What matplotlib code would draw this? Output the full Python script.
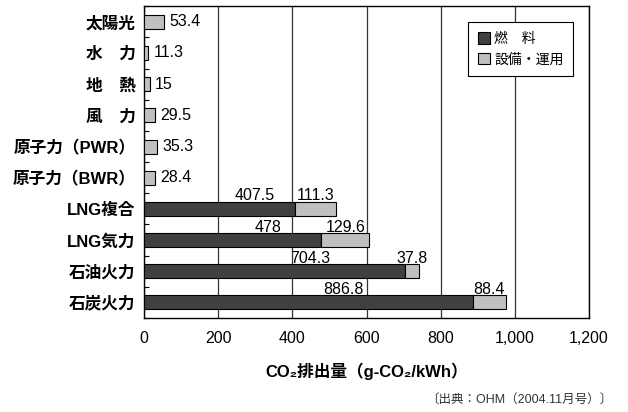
import matplotlib
matplotlib.use("Agg")
import matplotlib.pyplot as plt
from matplotlib.patches import Patch
import numpy as np

plt.rcParams["font.family"] = ["Liberation Sans", "Noto Sans CJK JP", "DejaVu Sans"]

# CO2 emissions per kWh by power source (g-CO2/kWh)
sources = ["太陽光", "水\u3000力", "地\u3000熱", "風\u3000力", "原子力（PWR）", "原子力（BWR）",
           "LNG複合", "LNG気力", "石油火力", "石炭火力"]
fuel = [0, 0, 0, 0, 0, 0, 407.5, 478, 704.3, 886.8]
facility = [53.4, 11.3, 15, 29.5, 35.3, 28.4, 111.3, 129.6, 37.8, 88.4]
xticks = [0, 200, 400, 600, 800, 1000, 1200]

dark = "#404040"
light = "#c0c0c0"
bar_h = 0.45

fig = plt.figure(figsize=(6.28, 4.12), dpi=100)
ax = fig.add_axes([0.2293, 0.228, 0.7087, 0.757])

y = np.arange(len(sources))
fuel = np.array(fuel)
facility = np.array(facility)

ax.barh(y, fuel, height=bar_h, color=dark, edgecolor="black", linewidth=0.8, zorder=3)
ax.barh(y, facility, left=fuel, height=bar_h, color=light, edgecolor="black",
        linewidth=0.8, zorder=3)

for i, (f, s) in enumerate(zip(fuel, facility)):
    if f > 0:
        top = i - bar_h / 2 - 0.05
        ax.text(f / 2 + 95, top, f"{f:g}", ha="center", va="baseline", fontsize=11.5)
        ax.text(f + s / 2, top, f"{s:g}", ha="center", va="baseline", fontsize=11.5)
    else:
        ax.annotate(f"{s:g}", (s, i), xytext=(4, 0), textcoords="offset points",
                    ha="left", va="center", fontsize=11.5)

ax.set_xlim(0, 1200)
ax.set_ylim(len(sources) - 0.5, -0.5)
ax.set_xticks(xticks)
ax.set_xticklabels([f"{v:,}" for v in xticks], fontsize=11.5)
ax.set_yticks(y)
ax.set_yticklabels(sources, fontsize=12, fontweight="bold")
ax.set_yticks(np.arange(-0.5, len(sources)), minor=True)
ax.tick_params(axis="x", length=0, pad=9)
ax.tick_params(axis="y", which="major", length=0, pad=6)
ax.tick_params(axis="y", which="minor", direction="in", length=3.5, width=0.8)

ax.grid(axis="x", color="#333333", linewidth=0.9, zorder=0)
ax.set_axisbelow(True)
for sp in ax.spines.values():
    sp.set_linewidth(1.0)
    sp.set_color("black")

ax.set_xlabel("CO₂排出量（g-CO₂/kWh）", fontsize=12, fontweight="bold", labelpad=12)

handles = [Patch(facecolor=dark, edgecolor="black", linewidth=0.8, label="燃\u3000料"),
           Patch(facecolor=light, edgecolor="black", linewidth=0.8, label="設備・運用")]
leg = fig.legend(handles=handles, loc="upper left", bbox_to_anchor=(0.745, 0.947),
                 bbox_transform=fig.transFigure, fontsize=10, frameon=True,
                 fancybox=False, framealpha=1, edgecolor="black",
                 handlelength=0.9, handleheight=0.9, handletextpad=0.3,
                 borderpad=0.7, labelspacing=0.5, borderaxespad=0)
leg.get_frame().set_linewidth(0.8)

fig.text(0.975, 0.03, "〔出典：OHM（2004.11月号）〕", ha="right", va="center",
         fontsize=9, color="#333333")

fig.savefig("out.png", dpi=100)
